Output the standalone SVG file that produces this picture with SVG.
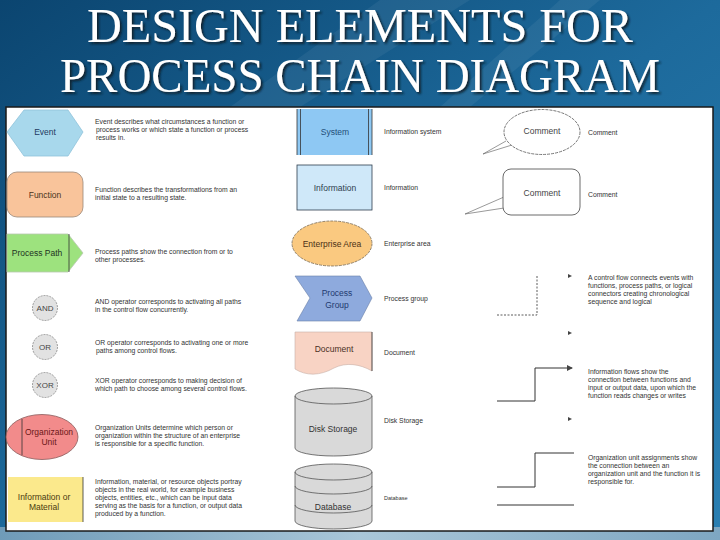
<svg xmlns="http://www.w3.org/2000/svg" width="720" height="540" viewBox="0 0 720 540">
<defs>
<linearGradient id="bg" x1="0" y1="0" x2="1" y2="1">
<stop offset="0" stop-color="#0b4570"/>
<stop offset="0.5" stop-color="#1d6a9c"/>
<stop offset="1" stop-color="#2a7fb2"/>
</linearGradient>
<linearGradient id="band" x1="0" y1="0" x2="1" y2="0">
<stop offset="0" stop-color="#6f9bb8"/>
<stop offset="0.5" stop-color="#a9c6d8"/>
<stop offset="1" stop-color="#7ea7c2"/>
</linearGradient>
<filter id="sh" x="-5%" y="-20%" width="110%" height="140%">
<feDropShadow dx="2" dy="2" stdDeviation="1" flood-color="#0a1a2a" flood-opacity="0.9"/>
</filter>
<marker id="arr" markerWidth="6" markerHeight="6" refX="5" refY="3" orient="auto" markerUnits="userSpaceOnUse">
<path d="M0,0 L6,3 L0,6 Z" fill="#444"/>
</marker>
</defs>
<style>
.title{font-family:"Liberation Serif",serif;font-size:48px;fill:#ffffff;text-anchor:middle}
.lbl{font-family:"Liberation Sans",Arial,sans-serif;font-size:8.5px;text-anchor:middle}
.d{font-family:"Liberation Sans",Arial,sans-serif;font-size:6.8px;fill:#333}
.ah{fill:#444}
</style>
<rect x="0" y="0" width="720" height="540" fill="url(#bg)"/>
<path d="M380,0 L470,0 L300,107 L230,107 Z" fill="#ffffff" opacity="0.06"/>
<path d="M560,0 L600,0 L470,107 L440,107 Z" fill="#ffffff" opacity="0.06"/>
<rect x="0" y="527" width="720" height="13" fill="url(#band)"/>
<g filter="url(#sh)">
<text class="title" x="360" y="42" textLength="546" lengthAdjust="spacingAndGlyphs">DESIGN ELEMENTS FOR</text>
<text class="title" x="360" y="92" textLength="600" lengthAdjust="spacingAndGlyphs">PROCESS CHAIN DIAGRAM</text>
</g>
<rect x="6" y="107" width="707" height="424" fill="#ffffff" stroke="#1a1a1a" stroke-width="1.5"/>

<g id="event">
<polygon points="7,132 24,110 68,110 83,132 68,156 24,156" fill="#a8d8ec" stroke="#8fc3da" stroke-width="0.8"/>
<text class="lbl" x="45" y="135" fill="#1f3a60">Event</text>
<text class="d" x="95" y="124">Event describes what circumstances a function or</text>
<text class="d" x="96" y="132">process works or which state a function or process</text>
<text class="d" x="96" y="140">results in.</text>
</g>

<g id="function">
<rect x="7" y="172" width="76" height="45" rx="10" fill="#f9c49b" stroke="#9a8878" stroke-width="0.8"/>
<text class="lbl" x="45" y="198" fill="#4a3520">Function</text>
<text class="d" x="95" y="192">Function describes the transformations from an</text>
<text class="d" x="95" y="200">initial state to a resulting state.</text>
</g>

<g id="process-path">
<polygon points="7,234 68,234 83,253 68,272 7,272" fill="#9de27e" stroke="#b8c8b0" stroke-width="0.8"/>
<line x1="69" y1="234" x2="69" y2="272" stroke="#333" stroke-width="0.8"/>
<text class="lbl" x="37" y="256" fill="#223322">Process Path</text>
<text class="d" x="95" y="254">Process paths show the connection from or to</text>
<text class="d" x="95" y="262">other processes.</text>
</g>

<g id="and">
<circle cx="45" cy="308" r="12.5" fill="#e2e2e2" stroke="#888" stroke-width="0.8" stroke-dasharray="2,1"/>
<text class="lbl" x="45" y="311" fill="#444" style="font-size:8px">AND</text>
<text class="d" x="95" y="304">AND operator corresponds to activating all paths</text>
<text class="d" x="95" y="312">in the control flow concurrently.</text>
</g>

<g id="or">
<circle cx="45" cy="347" r="12.5" fill="#e2e2e2" stroke="#888" stroke-width="0.8" stroke-dasharray="2,1"/>
<text class="lbl" x="45" y="350" fill="#444" style="font-size:8px">OR</text>
<text class="d" x="95" y="345">OR operator corresponds to activating one or more</text>
<text class="d" x="96" y="353">paths among control flows.</text>
</g>

<g id="xor">
<circle cx="45" cy="385" r="12.5" fill="#e2e2e2" stroke="#888" stroke-width="0.8" stroke-dasharray="2,1"/>
<text class="lbl" x="45" y="388" fill="#444" style="font-size:8px">XOR</text>
<text class="d" x="95" y="383">XOR operator corresponds to making decision of</text>
<text class="d" x="95" y="391">which path to choose among several control flows.</text>
</g>

<g id="org-unit">
<ellipse cx="42" cy="437" rx="36" ry="22.5" fill="#f28b8b" stroke="#8a5a5a" stroke-width="0.8"/>
<line x1="22" y1="419" x2="22" y2="455" stroke="#333" stroke-width="0.8"/>
<text class="lbl" x="49" y="435" fill="#6a1818">Organization</text>
<text class="lbl" x="49" y="445" fill="#6a1818">Unit</text>
<text class="d" x="95" y="430">Organization Units determine which person or</text>
<text class="d" x="95" y="438">organization within the structure of an enterprise</text>
<text class="d" x="95" y="446">is responsible for a specific function.</text>
</g>

<g id="info-material">
<rect x="8" y="477" width="75" height="45" fill="#fbe98c"/>
<line x1="83" y1="477" x2="83" y2="522" stroke="#333" stroke-width="0.8"/>
<text class="lbl" x="44" y="500" fill="#4a3a10">Information or</text>
<text class="lbl" x="44" y="510" fill="#4a3a10">Material</text>
<text class="d" x="95" y="484">Information, material, or resource objects portray</text>
<text class="d" x="95" y="492">objects in the real world, for example business</text>
<text class="d" x="95" y="500">objects, entities, etc., which can be input data</text>
<text class="d" x="95" y="508">serving as the basis for a function, or output data</text>
<text class="d" x="95" y="516">produced by a function.</text>
</g>

<g id="system">
<rect x="297" y="109" width="75" height="46" fill="#8ec8f3"/>
<line x1="297" y1="109" x2="297" y2="155" stroke="#333" stroke-width="0.8"/>
<line x1="300.5" y1="109" x2="300.5" y2="155" stroke="#333" stroke-width="0.8"/>
<line x1="368.5" y1="109" x2="368.5" y2="155" stroke="#333" stroke-width="0.8"/>
<line x1="372" y1="109" x2="372" y2="155" stroke="#333" stroke-width="0.8"/>
<text class="lbl" x="335" y="135" fill="#1f4e79">System</text>
<text class="d" x="384" y="134">Information system</text>
</g>

<g id="information">
<rect x="297" y="165" width="75" height="45" fill="#cfe8f9" stroke="#2e3e4e" stroke-width="0.8"/>
<text class="lbl" x="335" y="191" fill="#2e3e4e">Information</text>
<text class="d" x="384" y="190">Information</text>
</g>

<g id="enterprise-area">
<ellipse cx="332" cy="243.5" rx="40" ry="22.5" fill="#fac980" stroke="#7a6a50" stroke-width="0.8" stroke-dasharray="3,1"/>
<text class="lbl" x="332" y="247" fill="#4a3015">Enterprise Area</text>
<text class="d" x="384" y="246">Enterprise area</text>
</g>

<g id="process-group">
<polygon points="295,276 360,276 372,298 360,321 297,321 310,298" fill="#8eaadd" stroke="#6a7fa8" stroke-width="0.6"/>
<text class="lbl" x="337" y="296" fill="#1f3a70">Process</text>
<text class="lbl" x="337" y="308" fill="#1f3a70">Group</text>
<text class="d" x="384" y="301">Process group</text>
</g>

<g id="document">
<path d="M295,332 H372 V371 C360,364 346,362 334,368 C320,376 306,376 295,369 Z" fill="#f8d3c4" stroke="#c8b0a8" stroke-width="0.6"/>
<line x1="372" y1="332" x2="372" y2="371" stroke="#333" stroke-width="0.8"/>
<text class="lbl" x="334" y="352" fill="#4a3025">Document</text>
<text class="d" x="384" y="355">Document</text>
</g>

<g id="disk-storage">
<path d="M295,396 A38.5,8 0 0 1 372,396 V448 A38.5,8 0 0 1 295,448 Z" fill="#d9d9d9" stroke="#555" stroke-width="0.8"/>
<path d="M295,396 A38.5,8 0 0 0 372,396" fill="none" stroke="#555" stroke-width="0.8"/>
<text class="lbl" x="333" y="432" fill="#333">Disk Storage</text>
<text class="d" x="384" y="423">Disk Storage</text>
</g>

<g id="database">
<path d="M295,472 A38.5,8 0 0 1 372,472 V521 A38.5,8 0 0 1 295,521 Z" fill="#d9d9d9" stroke="#555" stroke-width="0.8"/>
<path d="M295,472 A38.5,8 0 0 0 372,472" fill="none" stroke="#555" stroke-width="0.8"/>
<path d="M295,486 A38.5,8 0 0 0 372,486" fill="none" stroke="#555" stroke-width="0.8"/>
<path d="M295,505 A38.5,8 0 0 0 372,505" fill="none" stroke="#555" stroke-width="0.8"/>
<text class="lbl" x="333" y="510" fill="#333">Database</text>
<text class="d" x="384" y="500" style="font-size:5.5px">Database</text>
</g>

<g id="comment-1">
<path d="M512,145 L483,154 L506,141" fill="none" stroke="#555" stroke-width="0.6"/>
<ellipse cx="542" cy="132" rx="38" ry="22.5" fill="#ffffff" stroke="#555" stroke-width="0.8" stroke-dasharray="3,1"/>
<text class="lbl" x="542" y="134" fill="#444">Comment</text>
<text class="d" x="588" y="135">Comment</text>
</g>

<g id="comment-2">
<path d="M504,197 L465,214 L504,208" fill="none" stroke="#555" stroke-width="0.6"/>
<rect x="503" y="169" width="77" height="46" rx="8" fill="#ffffff" stroke="#444" stroke-width="0.8"/>
<text class="lbl" x="542" y="196" fill="#444">Comment</text>
<text class="d" x="588" y="197">Comment</text>
</g>

<g id="connectors">
<path d="M497,315 H537 V276" fill="none" stroke="#333" stroke-width="0.8" stroke-dasharray="2,1.5"/>
<polygon class="ah" points="568,274 572,276 568,278"/>
<polygon class="ah" points="568,331 572,333 568,335"/>
<path d="M497,401 H535 V368 H572" fill="none" stroke="#333" stroke-width="1" marker-end="url(#arr)"/>
<polygon class="ah" points="568,417 572,419 568,421"/>
<path d="M497,487 H535 V453 H574" fill="none" stroke="#333" stroke-width="1"/>
<line x1="497" y1="505" x2="574" y2="505" stroke="#333" stroke-width="1"/>
</g>

<g id="flow-texts">
<text class="d" x="588" y="280">A control flow connects events with</text>
<text class="d" x="588" y="288">functions, process paths, or logical</text>
<text class="d" x="588" y="296">connectors creating chronological</text>
<text class="d" x="588" y="304">sequence and logical</text>
<text class="d" x="588" y="374">Information flows show the</text>
<text class="d" x="588" y="382">connection between functions and</text>
<text class="d" x="588" y="390">input or output data, upon which the</text>
<text class="d" x="588" y="398">function reads changes or writes</text>
<text class="d" x="588" y="460">Organization unit assignments show</text>
<text class="d" x="588" y="468">the connection between an</text>
<text class="d" x="588" y="476">organization unit and the function it is</text>
<text class="d" x="588" y="484">responsible for.</text>
</g>
</svg>
